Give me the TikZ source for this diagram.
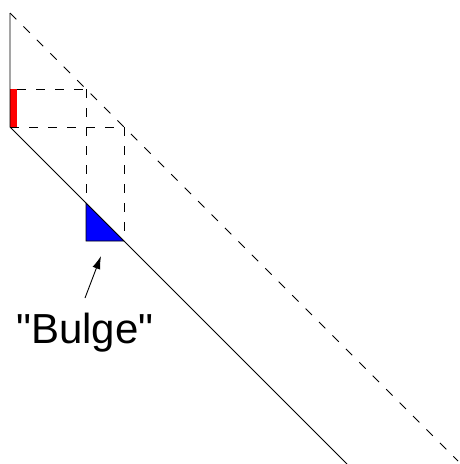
\documentclass[tikz,border=0pt]{standalone}
\usepackage{fontspec}
\setmainfont{Liberation Sans}[Ligatures=TeXOff]
\usetikzlibrary{arrows.meta}
\begin{document}
\begin{tikzpicture}[x=1pt,y=-1pt,
  dsh/.style={dash pattern=on 9pt off 10pt, line width=0.9pt},
  sld/.style={line width=0.9pt},
  lbl/.style={font=\fontsize{42}{46}\selectfont, inner sep=0pt, anchor=base}]
\useasboundingbox (0,0) rectangle (460,464);
% key points
\coordinate (top) at (10,13);
\coordinate (corner) at (10,127);
\coordinate (redtop) at (10,89);
\coordinate (a) at (86,89);
\coordinate (b) at (124,127);
\coordinate (c) at (86,203);
\coordinate (d) at (86,241);
\coordinate (e) at (124,241);
\coordinate (solidend) at (347,464);
\coordinate (dashend) at (458,461);
% red and blue patches
\fill[red] (10,89) rectangle (17,127);
\filldraw[fill=blue, draw=black, line width=0.6pt] (c) -- (d) -- (e) -- cycle;
% dashed construction lines
\draw[dsh] (top) -- (dashend);
\draw[dsh] (17,89) -- (a);
\draw[dsh] (corner) -- (b);
\draw[dsh] (a) -- (c);
\draw[dsh] (b) -- (e);
% solid lines
\draw[sld] (top) -- (corner) -- (solidend);
% label
\node[lbl] (bulge) at (85,343) {"Bulge"};
\coordinate (tip) at (101,256);
\draw[line width=0.9pt, -{Latex[length=13pt,width=8pt]}] (85,298) -- (tip);
\end{tikzpicture}
\end{document}
